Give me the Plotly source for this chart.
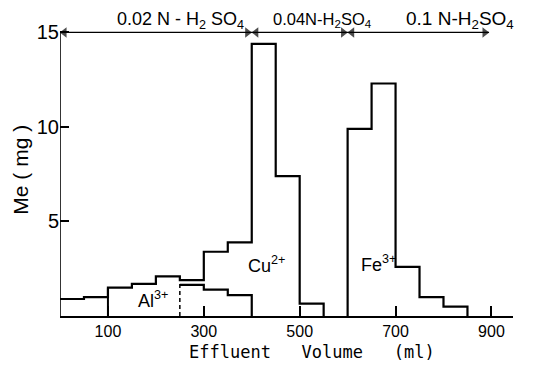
import plotly.graph_objects as go

# ---- data ----
bin_width = 50
total_start = 0
total_vals = [0.9, 1.0, 1.5, 1.7, 2.1, 1.9, 3.4, 3.9, 14.4, 7.4, 0.65]   # Al + Cu, 0-550 ml
al_start = 250
al_vals = [1.65, 1.4, 1.1]                                              # Al tail, 250-400 ml
fe_start = 600
fe_vals = [9.9, 12.3, 2.6, 1.0, 0.5]                                    # Fe, 600-850 ml
al_front = 100          # solid vertical at start of Al band
al_cu_split = 250       # dashed divider

x_ticks = [100, 300, 500, 700, 900]
y_ticks = [5, 10, 15]

eluent_bounds = [0, 400, 600, 895]
eluent_labels = ["0.02 N - H<sub>2</sub> SO<sub>4</sub>",
                 "0.04N-H<sub>2</sub>SO<sub>4</sub>",
                 "0.1 N-H<sub>2</sub>SO<sub>4</sub>"]
eluent_label_x = [252, 547, 835]
eluent_label_size = [18, 16.5, 19]

ion_labels = ["Al<sup>3+</sup>", "Cu<sup>2+</sup>", "Fe<sup>3+</sup>"]
ion_x = [193, 430, 665]
ion_y = [0.85, 2.75, 2.8]

arrow_level = 15
y_top = 15.5
head_inset = 9   # ml, so triangle tips meet the segment ends


def steps(start, vals, from_zero=False):
    xs, ys = [], []
    if from_zero:
        xs.append(start); ys.append(0)
    for i, v in enumerate(vals):
        xs.append(start + i * bin_width); ys.append(v)
    xs.append(start + len(vals) * bin_width); ys.append(0)
    return xs, ys


fig = go.Figure()
line_style = dict(color="black", width=2.2, shape="hv")

tx, ty = steps(total_start, total_vals)
fig.add_trace(go.Scatter(x=tx, y=ty, mode="lines", line=line_style, hoverinfo="skip"))
ax_, ay_ = steps(al_start, al_vals)
fig.add_trace(go.Scatter(x=ax_, y=ay_, mode="lines", line=line_style, hoverinfo="skip"))
fx, fy = steps(fe_start, fe_vals, from_zero=True)
fig.add_trace(go.Scatter(x=fx, y=fy, mode="lines", line=line_style, hoverinfo="skip"))

idx_front = (al_front - total_start) // bin_width
fig.add_trace(go.Scatter(x=[al_front, al_front], y=[0, total_vals[idx_front]], mode="lines",
                         line=dict(color="black", width=2), hoverinfo="skip"))
idx_split = (al_cu_split - total_start) // bin_width
fig.add_trace(go.Scatter(x=[al_cu_split, al_cu_split], y=[0, total_vals[idx_split]], mode="lines",
                         line=dict(color="black", width=1.5, dash="4px,3px"), hoverinfo="skip"))

# eluent double-headed arrows
fig.add_trace(go.Scatter(x=[eluent_bounds[0], eluent_bounds[-1]], y=[arrow_level, arrow_level],
                         mode="lines", line=dict(color="black", width=1.2), hoverinfo="skip",
                         cliponaxis=False))
for a, b in zip(eluent_bounds[:-1], eluent_bounds[1:]):
    fig.add_trace(go.Scatter(x=[a + head_inset, b - head_inset], y=[arrow_level, arrow_level],
                             mode="markers", hoverinfo="skip", cliponaxis=False,
                             marker=dict(symbol=["triangle-left", "triangle-right"], size=[9, 9],
                                         color="black", line=dict(width=0))))

annotations = []
for t, x, s in zip(eluent_labels, eluent_label_x, eluent_label_size):
    annotations.append(dict(x=x, y=1.01, xref="x", yref="paper", text=t, showarrow=False,
                            xanchor="center", yanchor="middle",
                            font=dict(family="Liberation Sans", size=s, color="black")))
for t, x, y in zip(ion_labels, ion_x, ion_y):
    annotations.append(dict(x=x, y=y, xref="x", yref="y", text=t, showarrow=False,
                            xanchor="center", yanchor="middle",
                            font=dict(family="Liberation Sans", size=18, color="black")))
annotations.append(dict(x=0.556, y=-0.123, xref="paper", yref="paper",
                        xanchor="center", yanchor="middle",
                        text="Effluent   Volume   (ml)", showarrow=False,
                        font=dict(family="DejaVu Sans Mono", size=17, color="black")))
annotations.append(dict(x=-0.088, y=0.50, xref="paper", yref="paper", text="Me ( mg )",
                        xanchor="center", yanchor="middle",
                        textangle=-90, showarrow=False,
                        font=dict(family="Liberation Sans", size=21, color="black")))

fig.update_layout(
    width=525, height=362,
    margin=dict(l=52, r=20, t=15, b=54, autoexpand=False),
    paper_bgcolor="white", plot_bgcolor="white",
    showlegend=False,
    annotations=annotations,
    shapes=[dict(type="line", xref="x", yref="y", x0=0, x1=0, y0=0, y1=arrow_level,
                 line=dict(color="black", width=1.6))],
    xaxis=dict(range=[0, 945], tickvals=x_ticks, ticks="inside", ticklen=10, tickwidth=1.5,
               tickcolor="black", showline=True, linecolor="black", linewidth=1.6,
               showgrid=False, zeroline=False,
               tickfont=dict(family="Liberation Sans", size=16, color="black")),
    yaxis=dict(range=[0, y_top], tickvals=y_ticks, ticks="inside", ticklen=9, tickwidth=1.5,
               tickcolor="black", showline=False, showgrid=False, zeroline=False,
               tickfont=dict(family="Liberation Sans", size=20, color="black")),
)

fig.write_html("out.html")
